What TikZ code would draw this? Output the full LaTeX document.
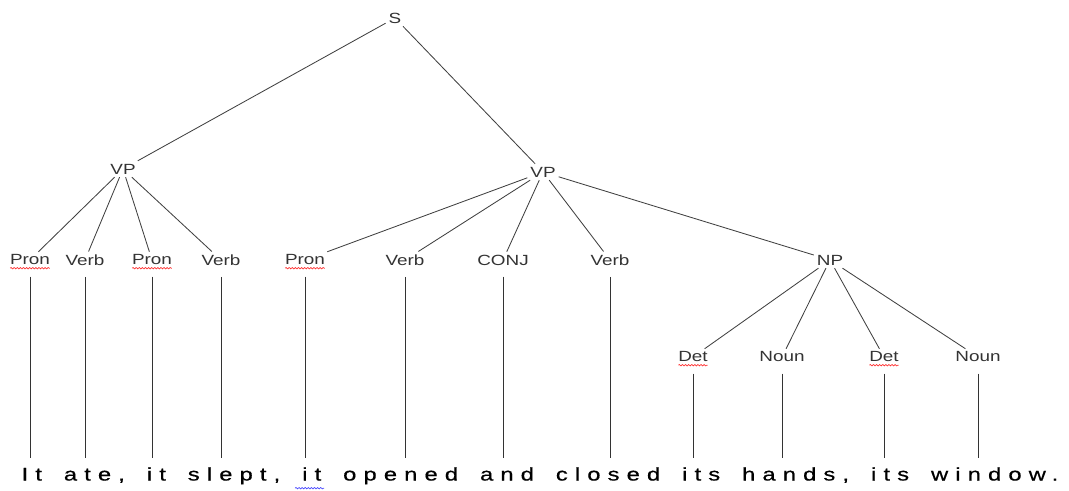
\documentclass[tikz,border=0pt]{standalone}
\usepackage{fontspec}
\setmainfont{Liberation Sans}[FakeStretch=1.28]
\newfontfamily\spaced[LetterSpace=39, WordSpace=1.6, FakeStretch=1.3, FakeBold=0.6]{Liberation Sans}
\usetikzlibrary{positioning,calc,decorations.pathmorphing}

\begin{document}
\begin{tikzpicture}[
    cat/.style={font=\fontsize{10.5}{13}\selectfont, text=black!80, inner sep=2pt},
    branch/.style={draw=black!75, line width=0.6pt},
    leaf/.style={draw=black!80, line width=0.7pt, shorten <=6pt},
    wavy/.style={decorate, decoration={snake, amplitude=0.5pt, segment length=2.2pt}, line width=0.5pt}
]
    \useasboundingbox (0,0) rectangle (26.725,12.275);

    % Top of the tree
    \node[cat] (s) at (9.875,11.825) {S};
    \node[cat] (vpa) at (3.075,8.05) {VP};
    \node[cat] (vpb) at (13.575,7.975) {VP};
    \draw[branch] (s) -- (vpa);
    \draw[branch] (s) -- (vpb);

    % First VP: Pron Verb Pron Verb
    \node[cat] (pron1) at (0.75,5.775) {Pron};
    \node[cat] (verb1) at (2.125,5.775) {Verb};
    \node[cat] (pron2) at (3.8,5.775) {Pron};
    \node[cat] (verb2) at (5.525,5.775) {Verb};
    \foreach \c in {pron1,verb1,pron2,verb2}
        \draw[branch] (vpa) -- (\c);

    % Second VP: Pron Verb CONJ Verb NP
    \node[cat] (pron3) at (7.625,5.775) {Pron};
    \node[cat] (verb3) at (10.125,5.775) {Verb};
    \node[cat] (conj) at (12.575,5.775) {CONJ};
    \node[cat] (verb4) at (15.25,5.775) {Verb};
    \node[cat] (np) at (20.75,5.775) {NP};
    \foreach \c in {pron3,verb3,conj,verb4,np}
        \draw[branch] (vpb) -- (\c);

    % NP: Det Noun Det Noun
    \node[cat] (det1) at (17.325,3.35) {Det};
    \node[cat] (noun1) at (19.55,3.35) {Noun};
    \node[cat] (det2) at (22.1,3.35) {Det};
    \node[cat] (noun2) at (24.45,3.35) {Noun};
    \foreach \c in {det1,noun1,det2,noun2}
        \draw[branch] (np) -- (\c);

    % Words at the bottom
    \node[font=\spaced\fontsize{13}{15}\selectfont, inner sep=0pt] (sent) at (13.5,0.38)
        {It ate, it slept, it opened and closed its hands, its window.};
    \coordinate (base) at (0,0.825);
    \foreach \c in {pron1,verb1,pron2,verb2,pron3,verb3,conj,verb4,det1,noun1,det2,noun2}
        \draw[leaf] (\c) -- (\c |- base);

    % Spell-check underlines
    \foreach \c in {pron1,pron2,pron3,det1,det2}
        \draw[wavy, red!80] ($(\c.base west)+(0.08,-0.08)$) -- ($(\c.base east)+(-0.08,-0.08)$);
    \draw[wavy, blue!70] (7.375,0.07) -- (8.1,0.07);
\end{tikzpicture}
\end{document}
